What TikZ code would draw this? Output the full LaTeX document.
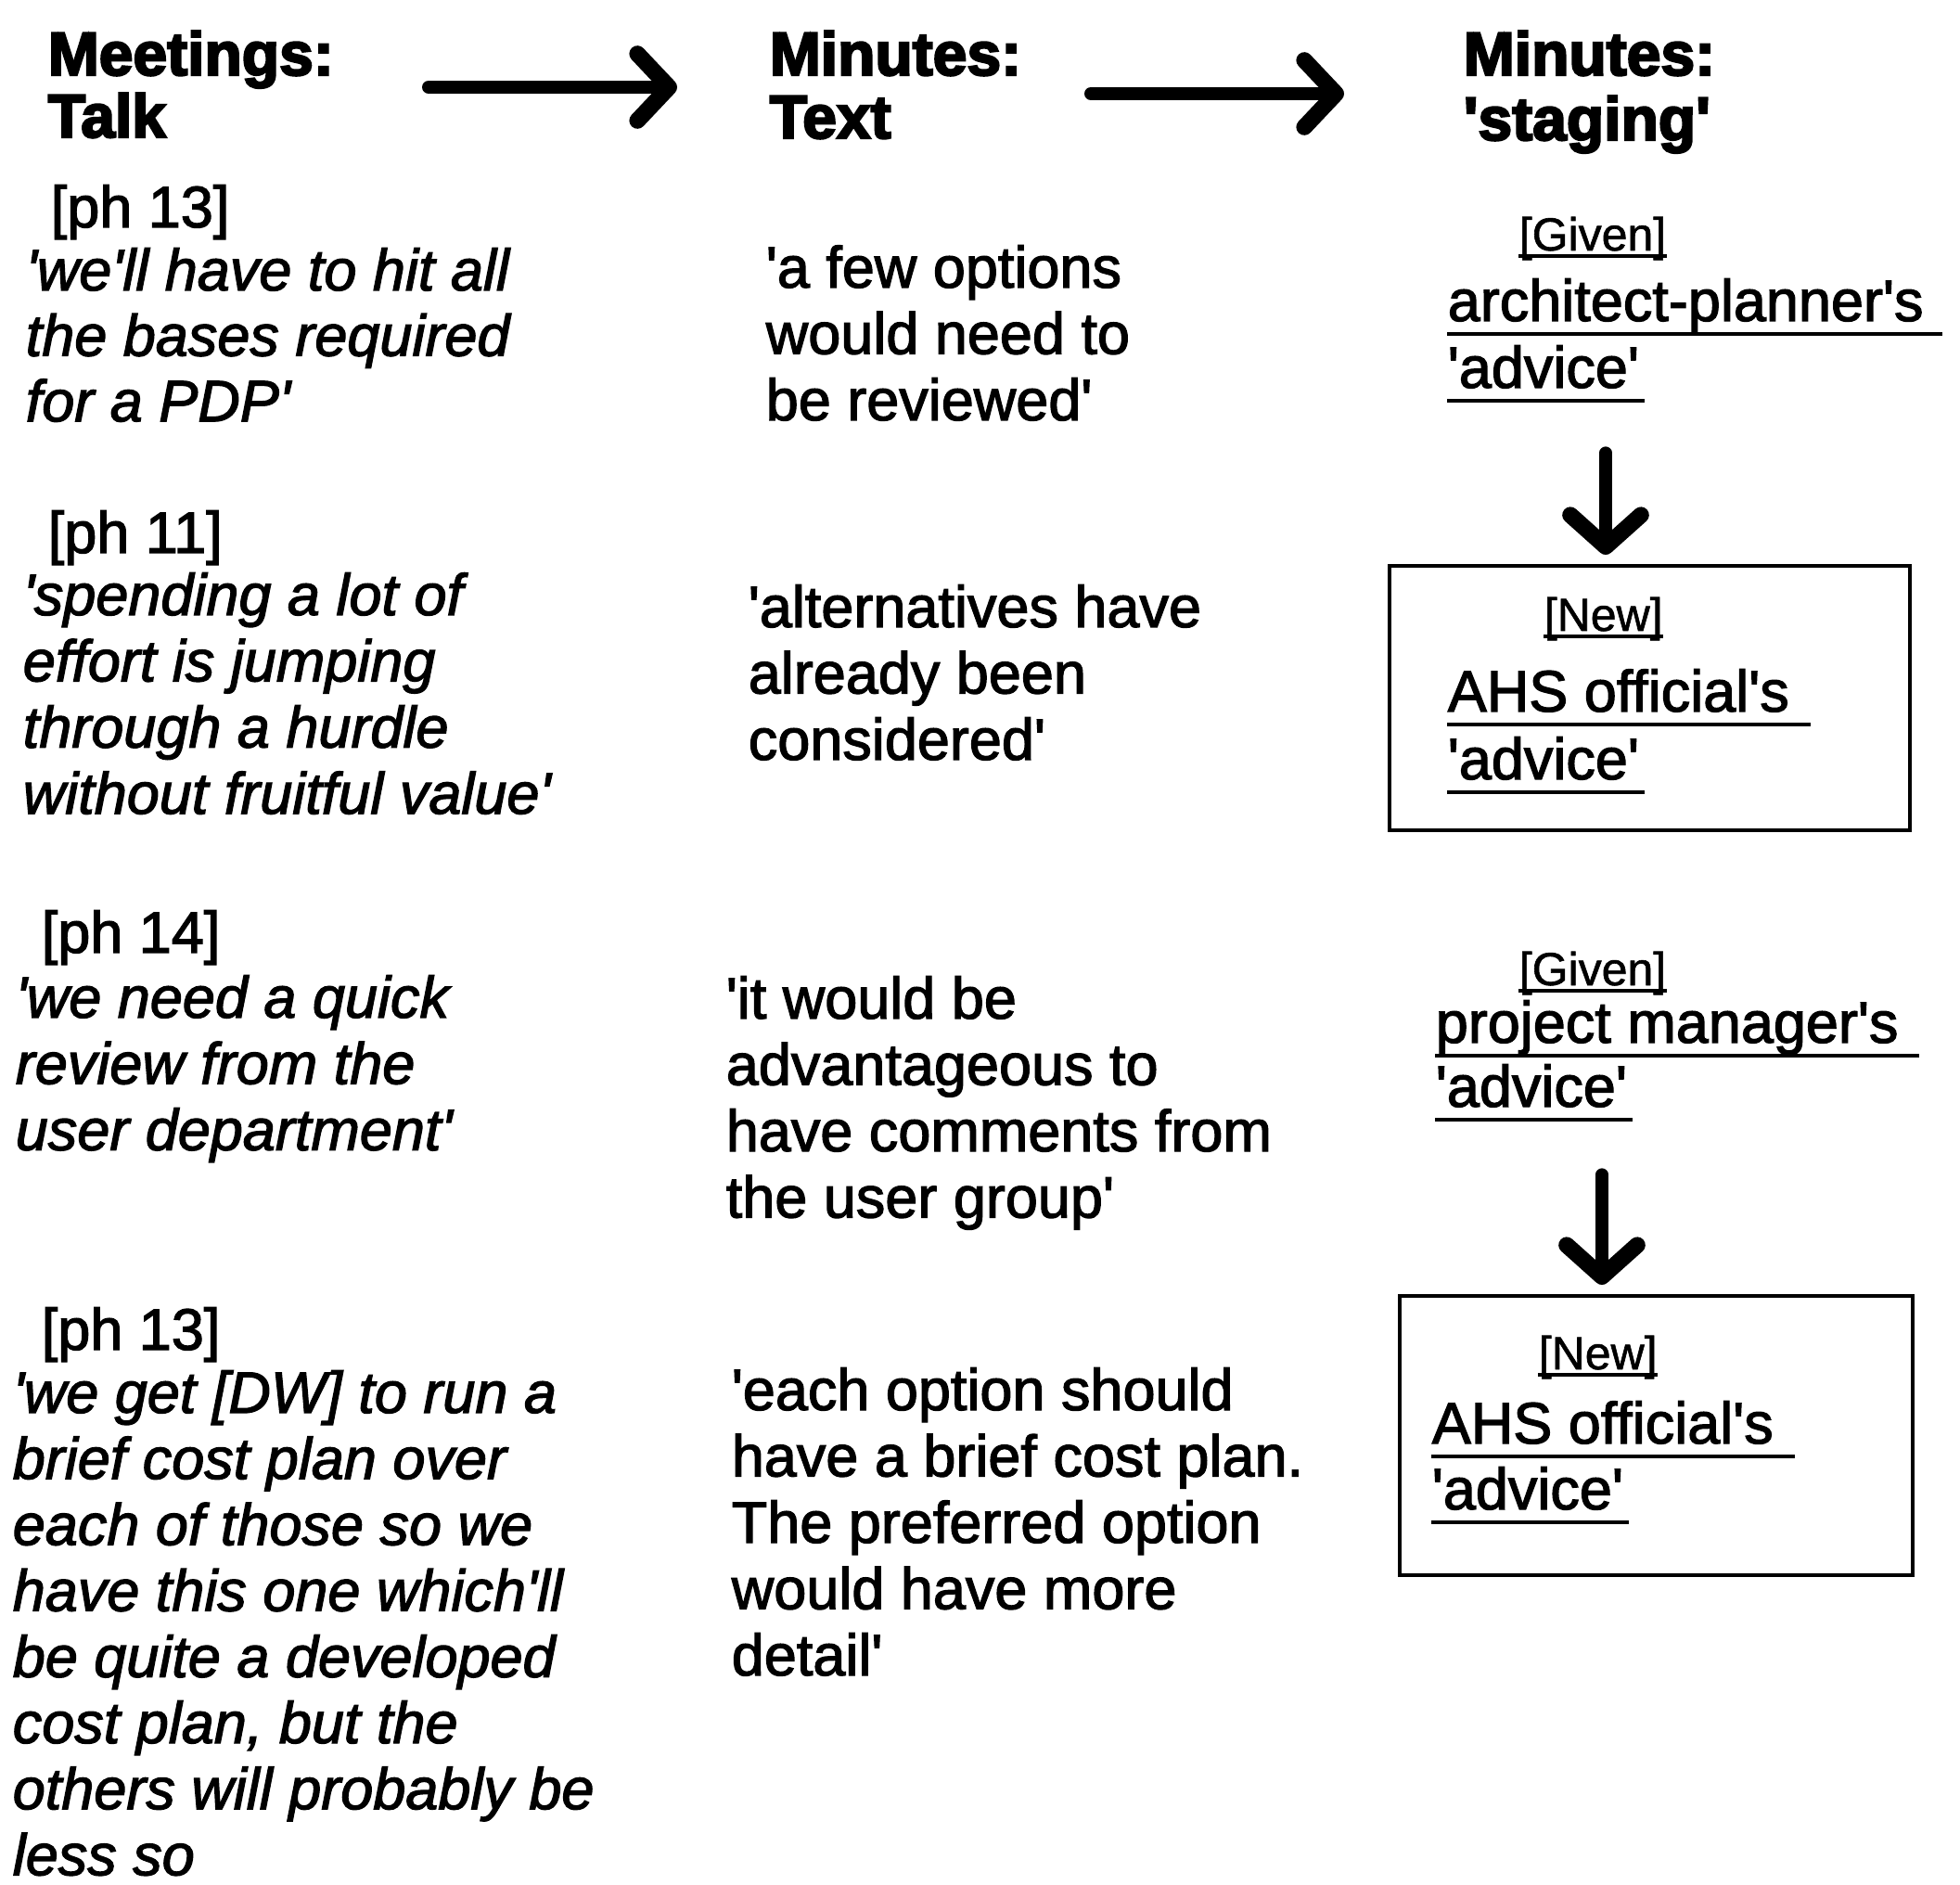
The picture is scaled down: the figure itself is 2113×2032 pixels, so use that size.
\documentclass[tikz,border=0pt]{standalone}
\usepackage{fontspec}
\newfontfamily\arfont{Liberation Sans}[FakeBold=2]
\newfontfamily\arhead{Liberation Sans}[FakeBold=3.5]
\newfontfamily\artag{Liberation Sans}[FakeBold=1.2]
\usetikzlibrary{arrows.meta,calc}
\begin{document}
\begin{tikzpicture}[x=0.25pt,y=-0.25pt,
  body/.style={anchor=base west,inner sep=0pt,font=\arfont\fontsize{15.75}{18}\selectfont},
  talk/.style={anchor=base west,inner sep=0pt,font=\arfont\fontsize{15.75}{18}\selectfont\itshape},
  hdr/.style={anchor=base west,inner sep=0pt,font=\arhead\fontsize{16.5}{19}\selectfont\bfseries},
  tag/.style={anchor=base west,inner sep=0pt,font=\artag\fontsize{12.5}{14}\selectfont},
  uline/.style={line width=1pt},
  flow/.style={line width=3.5pt,line cap=round,-{Straight Barb[length=8.5pt,width=18pt,line width=4.4pt,round]}},
  vflow/.style={line width=3.3pt,line cap=round,-{Straight Barb[length=8.5pt,width=19pt,line width=4.4pt,round]}},
  boxed/.style={draw,line width=1pt,inner sep=0pt}
]
\fill[white] (0,0) rectangle (2113,2032);
\useasboundingbox (0,0) rectangle (2113,2032);

% headers
\node[hdr] (h1a) at (51,81) {Meetings:};
\node[hdr] (h1b) at (51,148) {Talk};
\node[hdr] (h2a) at (829,81) {Minutes:};
\node[hdr] (h2b) at (829,149) {Text};
\node[hdr] (h3a) at (1577,81) {Minutes:};
\node[hdr] (h3b) at (1577,151) {'staging'};
\coordinate (a1s) at (462,94);
\coordinate (a1e) at (730,94);
\coordinate (a2s) at (1176,101);
\coordinate (a2e) at (1449,101);
\draw[flow] (a1s) -- (a1e);
\draw[flow] (a2s) -- (a2e);

% column 1: talk
\node[body] (p1) at (54,245) {[ph 13]};
\foreach \s [count=\i] in {{'we'll have to hit all},{the bases required},{for a PDP'}}
  \node[talk] (ta\i) at (27,313+70.6*\i-70.6) {\s};
\node[body] (p2) at (51,596) {[ph 11]};
\foreach \s [count=\i] in {{'spending a lot of},{effort is jumping},{through a hurdle},{without fruitful value'}}
  \node[talk] (tb\i) at (24,663+71.4*\i-71.4) {\s};
\node[body] (p3) at (44,1027) {[ph 14]};
\foreach \s [count=\i] in {{'we need a quick},{review from the},{user department'}}
  \node[talk] (tc\i) at (16,1097+71.4*\i-71.4) {\s};
\node[body] (p4) at (44,1455) {[ph 13]};
\foreach \s [count=\i] in {{'we get [DW] to run a},{brief cost plan over},{each of those so we},{have this one which'll},{be quite a developed},{cost plan, but the},{others will probably be},{less so}}
  \node[talk] (td\i) at (13,1523+71.2*\i-71.2) {\s};

% column 2: minutes text
\foreach \s [count=\i] in {{'a few options},{would need to},{be reviewed'}}
  \node[body] (ma\i) at (825,310+71.5*\i-71.5) {\s};
\foreach \s [count=\i] in {{'alternatives have},{already been},{considered'}}
  \node[body] (mb\i) at (806,676+71.5*\i-71.5) {\s};
\foreach \s [count=\i] in {{'it would be},{advantageous to},{have comments from},{the user group'}}
  \node[body] (mc\i) at (782,1098+71.5*\i-71.5) {\s};
\foreach \s [count=\i] in {{'each option should},{have a brief cost plan.},{The preferred option},{would have more},{detail'}}
  \node[body] (md\i) at (788,1520+71.5*\i-71.5) {\s};

% column 3: staging
\node[boxed,minimum width=140.25pt,minimum height=71.25pt] (box1) at (1778.5,752.5) {};
\node[boxed,minimum width=138.25pt,minimum height=75.25pt] (box2) at (1785.5,1547.5) {};

\node[tag] (g1) at (1637,270) {[Given]};
\node[body] (ap) at (1560,346) {architect-planner's};
\node[body] (adv1) at (1560,418) {'advice'};
\node[tag] (n1) at (1664,680) {[New]};
\node[body] (ahs1) at (1560,767) {AHS official's};
\node[body] (adv2) at (1560,840) {'advice'};
\node[tag] (g2) at (1637,1062) {[Given]};
\node[body] (pm) at (1547,1124) {project manager's};
\node[body] (adv3) at (1547,1193) {'advice'};
\node[tag] (n2) at (1658,1476) {[New]};
\node[body] (ahs2) at (1543,1556) {AHS official's};
\node[body] (adv4) at (1543,1627) {'advice'};

\foreach \n in {g1,n1,g2,n2}
  \draw[uline] ($(\n.base west)+(0,6)$) -- ($(\n.base east)+(0,6)$);
\foreach \n/\e in {ap/20,adv1/5,ahs1/22,adv2/5,pm/22,adv3/5,ahs2/22,adv4/5}
  \draw[uline] ($(\n.base west)+(0,14)$) -- ($(\n.base east)+(\e,14)$);

\coordinate (d1) at (1731,488);
\coordinate (d2) at (1727,1266);
\draw[vflow] (d1) -- ([yshift=2.5pt]d1 |- box1.north);
\draw[vflow] (d2) -- ([yshift=2.5pt]d2 |- box2.north);
\end{tikzpicture}
\end{document}
